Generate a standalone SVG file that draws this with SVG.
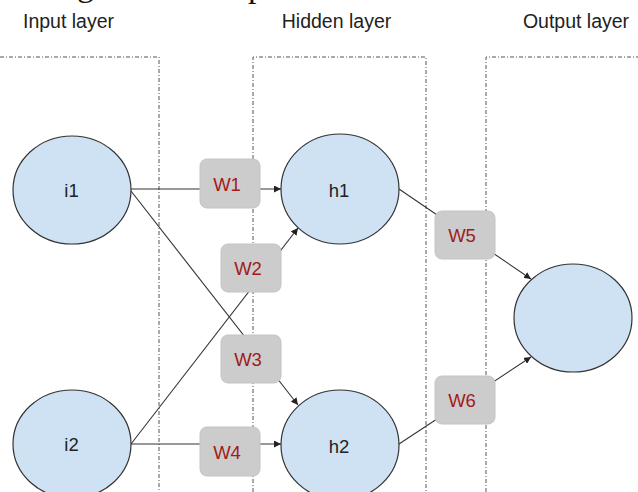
<svg xmlns="http://www.w3.org/2000/svg" width="638" height="492" viewBox="0 0 638 492">
<style>
.layer{fill:none;stroke:#555;stroke-width:1;stroke-dasharray:4 2 1 2}
.title{font-family:"Liberation Sans",Arial,sans-serif;font-size:19.5px;fill:#222;text-anchor:middle}
.node{fill:#cfe2f3;stroke:#333;stroke-width:1.2}
.nlabel{font-family:"Liberation Sans",Arial,sans-serif;font-size:18.5px;fill:#222;text-anchor:middle}
.wbox{fill:#cccccc;stroke:#c4c4c4;stroke-width:1}
.wlabel{font-family:"Liberation Sans",Arial,sans-serif;font-size:18.5px;fill:#a11b1b;text-anchor:middle}
.edge{stroke:#333;stroke-width:1.1;fill:none;marker-end:url(#arr)}
</style>
<defs>
<marker id="arr" viewBox="0 0 10 10" refX="10" refY="5" markerWidth="7" markerHeight="7" markerUnits="userSpaceOnUse" orient="auto">
<path d="M0,0 L10,5 L0,10 z" fill="#222"/>
</marker>
</defs>
<rect width="638" height="492" fill="#ffffff"/>
<text x="77" y="-4" font-family="'Liberation Serif',serif" font-size="34" fill="#111">g</text>
<text x="248" y="-3" font-family="'Liberation Serif',serif" font-size="34" fill="#111">p</text>
<g id="layers">
<path class="layer" d="M0,57 H159 V492"/>
<path class="layer" d="M253,492 V57 H426 V492"/>
<path class="layer" d="M486,492 V57 H638"/>
<text class="title" x="68.5" y="28">Input layer</text>
<text class="title" x="336.5" y="28">Hidden layer</text>
<text class="title" x="576" y="28">Output layer</text>
</g>
<g id="connectors">
<line class="edge" x1="131" y1="189" x2="281" y2="189"/>
<line class="edge" x1="131" y1="191" x2="298" y2="405"/>
<line class="edge" x1="131" y1="444" x2="298" y2="228"/>
<line class="edge" x1="131" y1="444" x2="281" y2="444"/>
<line class="edge" x1="399" y1="189" x2="531" y2="279"/>
<line class="edge" x1="399" y1="444" x2="531" y2="357"/>
</g>
<g id="i1"><ellipse class="node" cx="72" cy="190" rx="59" ry="54"/><text class="nlabel" x="71.5" y="197">i1</text></g>
<g id="i2"><ellipse class="node" cx="72" cy="444" rx="59" ry="54"/><text class="nlabel" x="71.5" y="451">i2</text></g>
<g id="h1"><ellipse class="node" cx="340" cy="189" rx="59" ry="55"/><text class="nlabel" x="339" y="197">h1</text></g>
<g id="h2"><ellipse class="node" cx="340" cy="445" rx="59" ry="55"/><text class="nlabel" x="339" y="453">h2</text></g>
<g id="out"><ellipse class="node" cx="573" cy="318" rx="59" ry="54"/></g>
<g id="w1"><rect class="wbox" x="200" y="159" width="60" height="49" rx="7"/><text class="wlabel" x="227" y="191">W1</text></g>
<g id="w2"><rect class="wbox" x="221" y="244" width="60" height="48" rx="7"/><text class="wlabel" x="248" y="275">W2</text></g>
<g id="w3"><rect class="wbox" x="221" y="335" width="60" height="48" rx="7"/><text class="wlabel" x="248" y="366">W3</text></g>
<g id="w4"><rect class="wbox" x="200" y="427" width="60" height="49" rx="7"/><text class="wlabel" x="227" y="459">W4</text></g>
<g id="w5"><rect class="wbox" x="435" y="211" width="60" height="48" rx="7"/><text class="wlabel" x="462" y="242">W5</text></g>
<g id="w6"><rect class="wbox" x="435" y="376" width="60" height="48" rx="7"/><text class="wlabel" x="462" y="407">W6</text></g>
</svg>
